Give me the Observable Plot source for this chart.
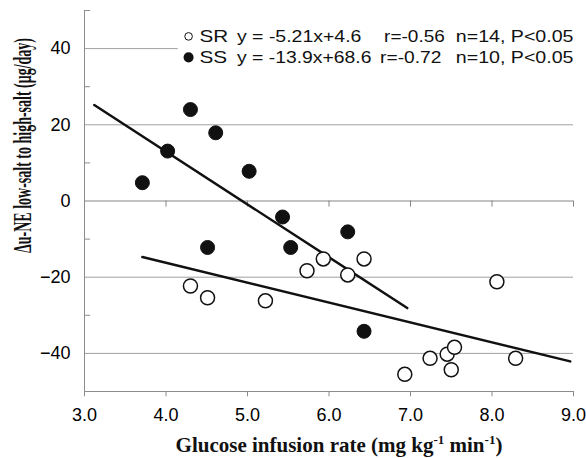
<!DOCTYPE html>
<html><head><meta charset="utf-8">
<script src="https://cdn.jsdelivr.net/npm/d3@7"></script>
<script src="https://cdn.jsdelivr.net/npm/@observablehq/plot@0.6"></script>
<style>
body{margin:0;background:#fff;}
#chart svg{font-family:Arial,"Liberation Sans",sans-serif;}
</style></head><body><div id="chart"></div>
<script>
// SR (salt-resistant) open circles
const srX = [4.30, 4.51, 5.22, 5.73, 5.93, 6.23, 6.43, 6.93, 7.24, 7.45, 7.50, 7.54, 8.06, 8.29];
const srY = [-22.3, -25.4, -26.2, -18.3, -15.2, -19.4, -15.2, -45.5, -41.3, -40.2, -44.3, -38.4, -21.2, -41.3];
// SS (salt-sensitive) filled circles
const ssX = [3.71, 4.02, 4.30, 4.51, 4.61, 5.02, 5.43, 5.53, 6.23, 6.43];
const ssY = [4.8, 13.1, 24.0, -12.2, 17.9, 7.8, -4.2, -12.2, -8.1, -34.2];
// regression line end points
const srLineX = [3.71, 8.96];
const srLineY = [-14.7, -42.1];
const ssLineX = [3.12, 6.96];
const ssLineY = [25.2, -28.1];
// ticks
const xTicks = [3, 4, 5, 6, 7, 8, 9];
const yTicks = [-40, -20, 0, 20, 40];
const yMinor = [50, 30, 10, -10, -30];
const gridY = [-40, -20, 20, 40];
// legend texts
const groups = ["SR", "SS"];
const equations = ["y = -5.21x+4.6", "y = -13.9x+68.6"];
const rValues = ["r=-0.56", "r=-0.72"];
const nValues = ["n=14, P<0.05", "n=10, P<0.05"];

const sr = srX.map((x, i) => ({x, y: srY[i]}));
const ss = ssX.map((x, i) => ({x, y: ssY[i]}));
const srLine = srLineX.map((x, i) => ({x, y: srLineY[i]}));
const ssLine = ssLineX.map((x, i) => ({x, y: ssLineY[i]}));
const legendRows = groups.map((g, i) => ({g, eq: equations[i], r: rValues[i], n: nValues[i], row: i}));

const rowY = [43.2, 37.7];
const rowYof = d => rowY[d.row];
const gray = "#8c8c8c";
const legendFont = 17;

const plot = Plot.plot({
  width: 586, height: 458,
  marginLeft: 84, marginRight: 13, marginTop: 10, marginBottom: 67,
  x: {domain: [3, 9]},
  y: {domain: [-50, 50]},
  style: {fontFamily: "Arial, 'Liberation Sans', sans-serif", fontSize: "18px", color: "#000", background: "#fff", overflow: "visible"},
  marks: [
    Plot.ruleY(gridY, {stroke: "#a0a0a0", strokeWidth: 1}),
    Plot.ruleY([0], {stroke: "#858585", strokeWidth: 1}),
    Plot.ruleX(xTicks.slice(1), {y1: 0, y2: -1.6, stroke: "#858585"}),
    Plot.ruleX([3], {stroke: gray}),
    Plot.ruleY([-50], {stroke: gray}),
    Plot.ruleY(yMinor, {x1: 3, x2: 3.075, stroke: gray}),
    Plot.ruleX(xTicks, {y1: -50, y2: -51.4, stroke: gray}),
    Plot.axisX({ticks: xTicks, tickFormat: d3.format(".1f"), tickSize: 0, tickPadding: 17, label: null, fontSize: 18}),
    Plot.axisY({ticks: yTicks, tickSize: 0, tickPadding: 14, label: null, fontSize: 18}),
    Plot.rect([0], {x1: 4.15, x2: 9, y1: 34.5, y2: 46.5, fill: "white"}),
    Plot.line(srLine, {x: "x", y: "y", stroke: "#111", strokeWidth: 2.5}),
    Plot.line(ssLine, {x: "x", y: "y", stroke: "#111", strokeWidth: 2.5}),
    Plot.dot(sr, {x: "x", y: "y", r: 7, fill: "white", stroke: "#111", strokeWidth: 1.5}),
    Plot.dot(ss, {x: "x", y: "y", r: 7, fill: "#111", stroke: "#111", strokeWidth: 1}),
    Plot.dot(legendRows.filter(d => d.row === 0), {x: 4.277, y: rowYof, r: 3.8, fill: "white", stroke: "#111", strokeWidth: 1}),
    Plot.dot(legendRows.filter(d => d.row === 1), {x: 4.277, y: rowYof, r: 4.3, fill: "#111", stroke: "#111"}),
    Plot.text(legendRows, {x: 4.41, y: rowYof, text: "g", textAnchor: "start", fontSize: legendFont, fill: "#111", ariaLabel: () => "legend-g"}),
    Plot.text(legendRows, {x: 4.871, y: rowYof, text: "eq", textAnchor: "start", fontSize: legendFont, fill: "#111", ariaLabel: () => "legend-eq"}),
    Plot.text(legendRows, {x: d => d.row === 0 ? 6.676 : 6.627, y: rowYof, text: "r", textAnchor: "start", fontSize: legendFont, fill: "#111", ariaLabel: () => "legend-r"}),
    Plot.text(legendRows, {x: 7.556, y: rowYof, text: "n", textAnchor: "start", fontSize: legendFont, fill: "#111", ariaLabel: () => "legend-n"})
  ]
});

const svg = d3.select(plot);
// stretch legend text horizontally like the (horizontally stretched) reference
const legendWidths = {g: [28.7, 27.7], eq: [124.4, 134.4], r: [60.7, 61.3], n: [117.7, 117.7]};
for (const key of Object.keys(legendWidths)) {
  svg.selectAll(`[aria-label="legend-${key}"]`).each(function(d, i) {
    const el = this.tagName.toLowerCase() === "text" ? (this.querySelector("tspan") || this) : this.querySelector("text");
    if (!el) return;
    d3.select(el).attr("textLength", legendWidths[key][i]).attr("lengthAdjust", "spacingAndGlyphs");
  });
}
// x axis label with superscripts
const xl = svg.append("text")
  .attr("x", 339).attr("y", 452)
  .attr("text-anchor", "middle")
  .attr("font-family", "'Liberation Serif', 'Times New Roman', serif")
  .attr("font-weight", "bold").attr("font-size", 21).attr("fill", "#111");
xl.append("tspan").text("Glucose infusion rate (mg kg");
xl.append("tspan").attr("dy", -8).attr("font-size", 13).text("-1");
xl.append("tspan").attr("dy", 8).text(" min");
xl.append("tspan").attr("dy", -8).attr("font-size", 13).text("-1");
xl.append("tspan").attr("dy", 8).text(")");
// y axis label
svg.append("text")
  .attr("transform", "translate(30.5,145.5) rotate(-90) scale(1,1.8)")
  .attr("text-anchor", "middle")
  .attr("font-family", "'Liberation Serif', 'Times New Roman', serif")
  .attr("font-weight", "bold").attr("font-size", 14).attr("fill", "#111")
  .text("\u0394u-NE low-salt to high-salt (\u03bcg/day)");

document.getElementById("chart").appendChild(plot);
</script>
</body></html>
